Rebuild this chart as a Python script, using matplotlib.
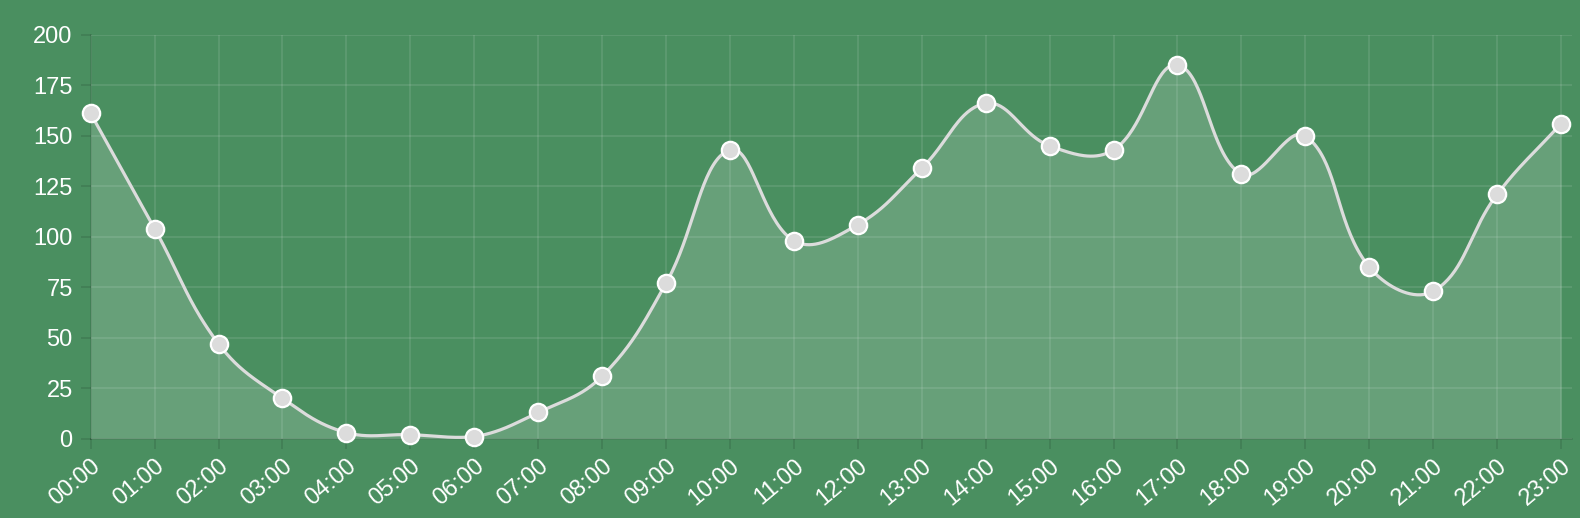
import numpy as np
import matplotlib.pyplot as plt

plt.rcParams['font.family'] = ['Liberation Sans', 'DejaVu Sans']

hours = ['%02d:00' % h for h in range(24)]
counts = [161, 104, 47, 20, 3, 2, 1, 13, 31, 77, 143, 98,
          106, 134, 166, 145, 143, 185, 131, 150, 85, 73, 121, 156]
yticks = [0, 25, 50, 75, 100, 125, 150, 175, 200]

bg = '#4a8f60'


def spline(xs, ys, sx, sy, tension=0.4, steps=40):
    # chart.js style bezier, control points worked out in pixel space
    px = np.asarray(xs, float) * sx
    py = np.asarray(ys, float) * sy
    n = len(px)
    cps = []
    for i in range(n):
        p0 = (px[max(i - 1, 0)], py[max(i - 1, 0)])
        p1 = (px[i], py[i])
        p2 = (px[min(i + 1, n - 1)], py[min(i + 1, n - 1)])
        d01 = np.hypot(p1[0] - p0[0], p1[1] - p0[1])
        d12 = np.hypot(p2[0] - p1[0], p2[1] - p1[1])
        tot = d01 + d12
        s01 = d01 / tot if tot else 0
        s12 = d12 / tot if tot else 0
        fa, fb = tension * s01, tension * s12
        c_prev = (p1[0] - fa * (p2[0] - p0[0]), p1[1] - fa * (p2[1] - p0[1]))
        c_next = (p1[0] + fb * (p2[0] - p0[0]), p1[1] + fb * (p2[1] - p0[1]))
        cps.append((c_prev, c_next))
    ymax = 200 * sy
    out_x, out_y = [], []
    t = np.linspace(0, 1, steps)
    for i in range(n - 1):
        a = np.array([px[i], py[i]])
        b = np.array(cps[i][1])
        c = np.array(cps[i + 1][0])
        d = np.array([px[i + 1], py[i + 1]])
        b[1] = min(max(b[1], 0), ymax)
        c[1] = min(max(c[1], 0), ymax)
        pts = ((1 - t) ** 3)[:, None] * a + (3 * (1 - t) ** 2 * t)[:, None] * b \
            + (3 * (1 - t) * t ** 2)[:, None] * c + (t ** 3)[:, None] * d
        out_x.extend(pts[:, 0] / sx)
        out_y.extend(pts[:, 1] / sy)
    return np.array(out_x), np.array(out_y)


fig = plt.figure(figsize=(15.8, 5.18), dpi=100, facecolor=bg)
ax = fig.add_axes([0.0574, 0.153, 0.9375, 0.78])
ax.set_facecolor(bg)

x = np.arange(len(hours))
cx, cy = spline(x, counts, 63.93, 2.02)
ax.fill_between(cx, cy, 0, color='white', alpha=0.16, linewidth=0, zorder=2)
ax.plot(cx, cy, color='#dcdcdc', linewidth=2.3, zorder=3)
ax.plot(x, counts, 'o', markersize=12.5, markerfacecolor='#dcdcdc',
        markeredgecolor='white', markeredgewidth=1.6, zorder=4, clip_on=False)

ax.set_xlim(0, 23.17)
ax.set_ylim(0, 200)
ax.set_xticks(x)
ax.set_xticklabels(hours, rotation=40, ha='right', rotation_mode='anchor')
ax.set_yticks(yticks)

ax.grid(True, color='white', alpha=0.13, linewidth=1.1, zorder=1)
ax.set_axisbelow(True)
for s in ['top', 'right']:
    ax.spines[s].set_visible(False)
for s in ['left', 'bottom']:
    ax.spines[s].set_color((0, 0, 0, 0.12))
    ax.spines[s].set_linewidth(1.2)
ax.tick_params(axis='both', colors=(0, 0, 0, 0.12), length=7, width=1.2,
               labelcolor='white', labelsize=17)
ax.tick_params(axis='y', pad=6)
ax.tick_params(axis='x', pad=5)

fig.savefig('out.png', dpi=100, facecolor=bg)
